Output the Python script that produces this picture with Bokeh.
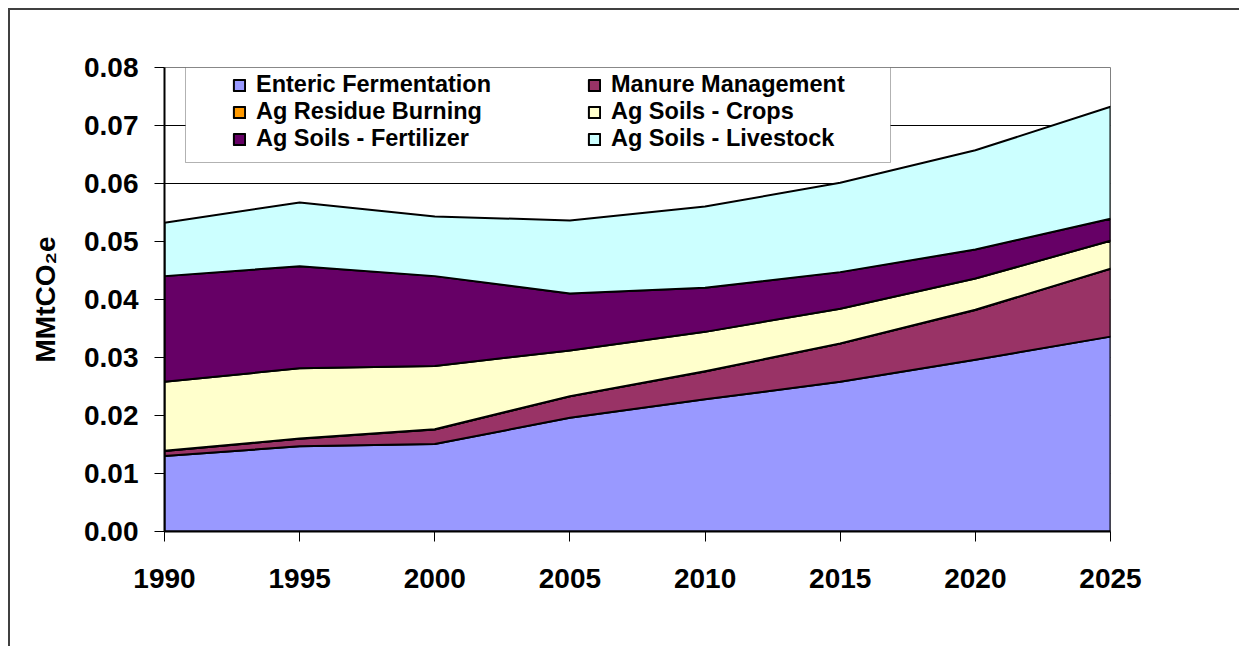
import numpy as np
from bokeh.plotting import figure
from bokeh.models import (FixedTicker, Legend, LegendItem, BoxAnnotation,
                          NumeralTickFormatter, Range1d)
from bokeh.embed import file_html
from bokeh.resources import INLINE

# ---------------- data ----------------
years = [1990, 1995, 2000, 2005, 2010, 2015, 2020, 2025]
enteric_fermentation = [0.0130, 0.0147, 0.0151, 0.0196, 0.0228, 0.0258, 0.0296, 0.0336]
manure_management = [0.0009, 0.0013, 0.0025, 0.0037, 0.0048, 0.0066, 0.0086, 0.0117]
ag_residue_burning = [0.00003, 0.00003, 0.00003, 0.00002, 0.00002, 0.00002, 0.00002, 0.00002]
ag_soils_crops = [0.0119, 0.0121, 0.0109, 0.0079, 0.0068, 0.0060, 0.0054, 0.0048]
ag_soils_fertilizer = [0.0182, 0.0176, 0.0155, 0.0098, 0.0076, 0.0063, 0.0050, 0.0038]
ag_soils_livestock = [0.0092, 0.0110, 0.0103, 0.0126, 0.0140, 0.0154, 0.0171, 0.0193]

series_names = ["Enteric Fermentation", "Manure Management", "Ag Residue Burning",
                "Ag Soils - Crops", "Ag Soils - Fertilizer", "Ag Soils - Livestock"]
series_values = [enteric_fermentation, manure_management, ag_residue_burning,
                 ag_soils_crops, ag_soils_fertilizer, ag_soils_livestock]
series_colors = ["#9999FF", "#993366", "#FF9900", "#FFFFCC", "#660066", "#CCFFFF"]

y_ticks = [0.00, 0.01, 0.02, 0.03, 0.04, 0.05, 0.06, 0.07, 0.08]
y_label = "MMtCO\u2082e"

FONT = "Liberation Sans"

# ---------------- figure ----------------
p = figure(width=1231, height=638, output_backend="svg", toolbar_location=None,
           x_range=Range1d(years[0], years[-1]), y_range=Range1d(y_ticks[0], y_ticks[-1]),
           min_border_left=154, min_border_right=131, min_border_top=57, min_border_bottom=117,
           background_fill_color="white", border_fill_color="white",
           styles={"margin-left": "8px", "margin-top": "8px",
                   "border-top": "2px solid #404040", "border-left": "2px solid #404040"})

p.outline_line_color = "#808080"
p.outline_line_width = 1

# stacked areas as polygons
bottom = np.zeros(len(years))
renderers = []
for name, vals, col in zip(series_names, series_values, series_colors):
    top = bottom + np.array(vals)
    xs = list(years) + list(years[::-1])
    ys = list(top) + list(bottom[::-1])
    r = p.patch(xs, ys, fill_color=col, line_color="black", line_width=2, line_join="round")
    renderers.append(r)
    bottom = top

# axes
p.xaxis.ticker = FixedTicker(ticks=years)
p.yaxis.ticker = FixedTicker(ticks=y_ticks)
p.yaxis.formatter = NumeralTickFormatter(format="0.00")
for ax in (p.xaxis[0], p.yaxis[0]):
    ax.axis_line_color = "black"
    ax.axis_line_width = 2
    ax.major_tick_line_color = "black"
    ax.major_tick_line_width = 1
    ax.major_tick_out = 10
    ax.major_tick_in = 0
    ax.minor_tick_line_color = None
    ax.major_label_text_font = FONT
    ax.major_label_text_font_style = "bold"
    ax.major_label_text_font_size = "28px"
    ax.major_label_text_color = "black"
p.xaxis.major_label_standoff = 27
p.yaxis.major_label_standoff = 16
p.yaxis.axis_label = y_label
p.yaxis.axis_label_text_font = FONT
p.yaxis.axis_label_text_font_style = "bold"
p.yaxis.axis_label_text_font_size = "28px"
p.yaxis.axis_label_text_color = "black"
p.yaxis.axis_label_standoff = 20

p.xgrid.grid_line_color = None
p.ygrid.grid_line_color = "black"
p.ygrid.grid_line_width = 1

# legend box
box = BoxAnnotation(left=21, right=726, top=464, bottom=369,
                    left_units="screen", right_units="screen",
                    top_units="screen", bottom_units="screen",
                    fill_color="white", fill_alpha=1.0,
                    line_color="black", line_width=1)
p.add_layout(box)

items = [LegendItem(label=n, renderers=[r]) for n, r in zip(series_names, renderers)]
legend = Legend(items=items, location=(68, 379), orientation="horizontal", ncols=2,
                padding=0, margin=0, spacing=0,
                glyph_width=14, glyph_height=14, label_standoff=10,
                label_width=331, label_height=27,
                label_text_font=FONT, label_text_font_style="bold",
                label_text_font_size="23.5px", label_text_color="black",
                background_fill_alpha=0, border_line_alpha=0)
p.add_layout(legend, "center")

open("out.html", "w").write(file_html(p, INLINE))
